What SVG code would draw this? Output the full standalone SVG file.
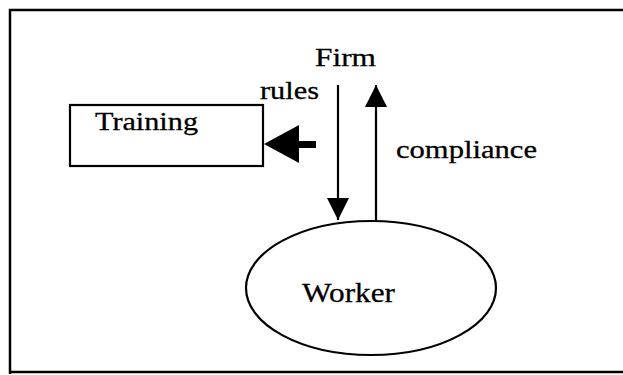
<svg xmlns="http://www.w3.org/2000/svg" width="623" height="375" viewBox="0 0 623 375">
<style>
.t{font-family:"Liberation Serif","Times New Roman",serif;font-size:26px;fill:#000;stroke:#000;stroke-width:0.3}
.ln{stroke:#000;stroke-width:2.2;fill:none}
</style>
<defs>
<marker id="ah" markerWidth="22" markerHeight="22" viewBox="0 0 22 22" refX="22" refY="11" orient="auto" markerUnits="userSpaceOnUse">
<path d="M0,0 L22,11 L0,22 Z" fill="#000"/>
</marker>
</defs>
<rect width="623" height="375" fill="#fff"/>
<path d="M10,374 L10,10 L625,10 M10,372 L625,372" stroke="#000" stroke-width="2.5" fill="none"/>
<g id="firm"><text class="t" x="315" y="66" textLength="61" lengthAdjust="spacingAndGlyphs">Firm</text></g>
<g id="training">
<rect x="70" y="105" width="193" height="61" class="ln"/>
<text class="t" x="95" y="130" textLength="103" lengthAdjust="spacingAndGlyphs">Training</text>
</g>
<g id="worker">
<ellipse cx="371" cy="288" rx="125" ry="67" class="ln"/>
<text class="t" x="302" y="302" textLength="93" lengthAdjust="spacingAndGlyphs" style="font-size:28px">Worker</text>
</g>
<g id="connectors">
<line x1="338" y1="85" x2="338" y2="220" class="ln" marker-end="url(#ah)"/>
<line x1="376" y1="222" x2="376" y2="85" class="ln" marker-end="url(#ah)"/>
<path d="M264,144 L299,125 L299,141 L316,141 L316,148 L299,148 L299,163 Z" fill="#000"/>
<text class="t" x="260" y="99" textLength="59" lengthAdjust="spacingAndGlyphs">rules</text>
<text class="t" x="396" y="158" textLength="141" lengthAdjust="spacingAndGlyphs" style="font-size:25px">compliance</text>
</g>
</svg>
